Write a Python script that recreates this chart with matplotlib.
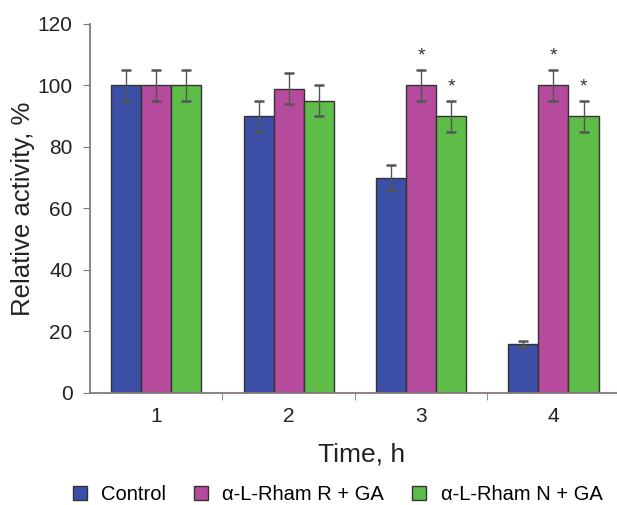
import matplotlib

matplotlib.use("Agg")
import matplotlib.pyplot as plt  # noqa: E402
import numpy as np  # noqa: E402
from matplotlib.patches import Patch  # noqa: E402

plt.rcParams["font.family"] = ["Liberation Sans", "DejaVu Sans"]

time_labels = ["1", "2", "3", "4"]
series_names = ["Control", "α-L-Rham R + GA", "α-L-Rham N + GA"]
control = [100, 90, 70, 16]
rham_r = [100, 99, 100, 100]
rham_n = [100, 95, 90, 90]
control_err = [5, 5, 4, 1]
rham_r_err = [5, 5, 5, 5]
rham_n_err = [5, 5, 5, 5]
# significance markers: (group index, series index)
stars = [(2, 1), (2, 2), (3, 1), (3, 2)]

colors = ["#3b4fa6", "#b64a9c", "#5dbd48"]
values = [control, rham_r, rham_n]
errors = [control_err, rham_r_err, rham_n_err]
axis_gray = "#85797a"

fig = plt.figure(figsize=(6.17, 5.05), dpi=100)
ax = fig.add_axes([0.146, 0.222, 0.854, 0.7305])

x = np.arange(1, len(time_labels) + 1)
width = 0.227
for i, (vals, errs) in enumerate(zip(values, errors)):
    ax.bar(x + (i - 1) * width, vals, width, color=colors[i],
           edgecolor="#333333", linewidth=1.0, zorder=2)
    ax.errorbar(x + (i - 1) * width, vals, yerr=errs, fmt="none",
                ecolor="#555555", elinewidth=1.0, capsize=3.5, capthick=1.8, zorder=3)

for g, s in stars:
    ax.text(x[g] + (s - 1) * width, values[s][g] + errors[s][g] + 3, "*",
            ha="center", va="baseline", fontsize=14, color="#333333")

ax.set_xlim(0.5, 4.48)
ax.set_ylim(0, 120)
ax.set_yticks(range(0, 121, 20))
ax.set_xticks(x)
ax.set_xticklabels(time_labels)
ax.set_xticks([1.5, 2.5, 3.5], minor=True)
ax.tick_params(axis="x", which="major", length=0, labelsize=15, pad=10)
ax.tick_params(axis="x", which="minor", length=5, direction="out", color=axis_gray)
ax.tick_params(axis="y", length=5, direction="out", color=axis_gray, labelsize=15,
               labelcolor="#222222", pad=7.5)
ax.tick_params(axis="x", labelcolor="#222222")

for side in ("top", "right"):
    ax.spines[side].set_visible(False)
for side in ("left", "bottom"):
    ax.spines[side].set_color(axis_gray)
    ax.spines[side].set_linewidth(1.3)

ax.set_xlabel("Time, h", fontsize=19, color="#222222", va="top")
ax.xaxis.set_label_coords(0.516, -0.1355)
ax.set_ylabel("Relative activity, %", fontsize=18.5, color="#222222", labelpad=2)

handles = [Patch(facecolor=c, edgecolor="#333333") for c in colors]
fig.legend(handles, series_names, loc="center left", bbox_to_anchor=(0.118, 0.021),
           ncol=3, frameon=False, fontsize=14.5, handlelength=0.7, handleheight=0.7,
           columnspacing=1.4, handletextpad=0.7, borderpad=0, borderaxespad=0)

fig.savefig("out.png", dpi=100)
